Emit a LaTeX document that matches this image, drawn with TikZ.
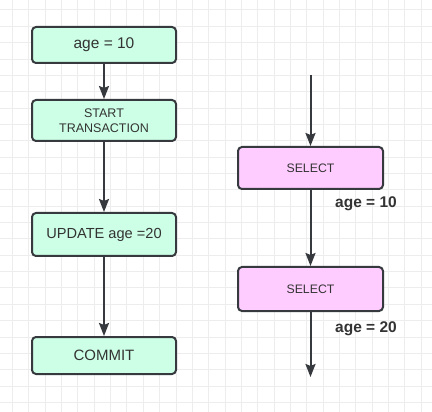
\documentclass[tikz,border=0pt]{standalone}
\usepackage{fontspec}
\setmainfont{Liberation Sans}
\usetikzlibrary{arrows.meta}
\definecolor{mint}{HTML}{CCFFE6}
\definecolor{pinkfill}{HTML}{FFCCFF}
\definecolor{edge}{HTML}{36393D}
\definecolor{gridc}{HTML}{EDEDED}
\definecolor{txt}{HTML}{333333}
\tikzset{
  box/.style={draw=edge, line width=2pt, rounded corners=4pt, minimum width=144pt, align=center, text=txt, inner sep=0pt},
  gbox/.style={box, fill=mint},
  pbox/.style={box, fill=pinkfill, minimum width=145pt},
  conn/.style={draw=edge, line width=2pt, -{Stealth[length=13pt,width=10pt,inset=2pt]}},
  lbl/.style={text=txt, font=\fontsize{15.5pt}{17pt}\selectfont\bfseries, inner sep=0pt}
}
\begin{document}
\begin{tikzpicture}[x=1pt,y=-1pt]
\useasboundingbox (0,0) rectangle (432,412);
\fill[white] (0,0) rectangle (432,412);
\foreach \i in {0,...,26} {
  \draw[gridc, line width=1pt] ({12.5+16.35*\i},0) -- ({12.5+16.35*\i},412);
  \draw[gridc, line width=1pt] (0,{10+16.35*\i}) -- (432,{10+16.35*\i});
}
\node[gbox, minimum height=36pt, font=\fontsize{15.5pt}{17pt}\selectfont] (a) at (104,45) {age = 10};
\node[gbox, minimum height=41pt, font=\fontsize{12.5pt}{15pt}\selectfont] (s) at (104,120.5) {START\\TRANSACTION};
\node[gbox, minimum height=43pt, font=\fontsize{14.6pt}{16pt}\selectfont] (u) at (104,234.5) {UPDATE age =20};
\node[gbox, minimum height=37pt, font=\fontsize{15pt}{17pt}\selectfont] (c) at (104,355.5) {COMMIT};
\draw[conn] (a) -- (s);
\draw[conn] (s) -- (u);
\draw[conn] (u) -- (c);

\coordinate (top) at (310.5,75);
\coordinate (bot) at (310.5,377);
\node[pbox, minimum height=42pt, font=\fontsize{12.3pt}{15pt}\selectfont] (sel1) at (310.5,168) {SELECT};
\node[pbox, minimum height=44pt, font=\fontsize{12.3pt}{15pt}\selectfont] (sel2) at (310.5,289) {SELECT};
\draw[conn] (top) -- (sel1);
\draw[conn] (sel1) -- (sel2);
\draw[conn] (sel2) -- (bot);
\node[lbl, anchor=west] (l1) at (335,204) {age = 10};
\node[lbl, anchor=west] (l2) at (335,329) {age = 20};
\end{tikzpicture}
\end{document}
